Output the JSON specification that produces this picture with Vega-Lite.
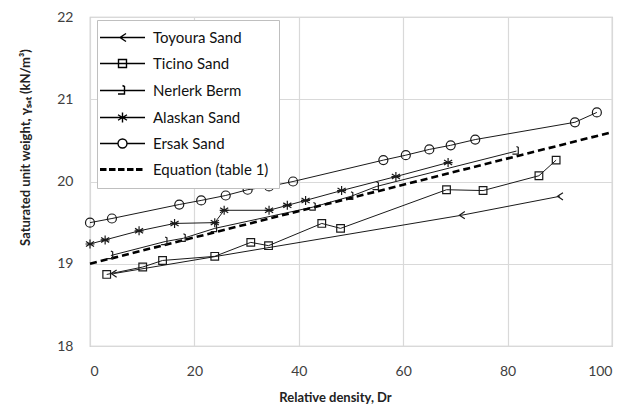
{
  "$schema": "https://vega.github.io/schema/vega-lite/v6.json",
  "width": 522,
  "height": 329,
  "autosize": {"type": "none"},
  "padding": {"left": 90, "top": 17, "right": 21, "bottom": 63},
  "background": "white",
  "config": {
    "font": "Lato",
    "view": {"stroke": "#bfbfbf", "strokeWidth": 1.2},
    "axis": {
      "grid": true, "gridColor": "#d9d9d9", "gridWidth": 1.2,
      "domain": false, "ticks": false,
      "labelFont": "Lato", "labelFontSize": 14, "labelColor": "#404040",
      "titleFont": "Lato", "titleFontSize": 13, "titleFontWeight": "bold", "titleColor": "#222222"
    }
  },
  "data": {
    "values": [
      {"material": "Toyoura Sand", "Dr": 4.5, "gamma": 18.88},
      {"material": "Toyoura Sand", "Dr": 71.2, "gamma": 19.59},
      {"material": "Toyoura Sand", "Dr": 90, "gamma": 19.82},
      {"material": "Ticino Sand", "Dr": 3.2, "gamma": 18.87},
      {"material": "Ticino Sand", "Dr": 10.1, "gamma": 18.96},
      {"material": "Ticino Sand", "Dr": 13.9, "gamma": 19.04},
      {"material": "Ticino Sand", "Dr": 23.9, "gamma": 19.09},
      {"material": "Ticino Sand", "Dr": 30.8, "gamma": 19.26},
      {"material": "Ticino Sand", "Dr": 34.2, "gamma": 19.22},
      {"material": "Ticino Sand", "Dr": 44.4, "gamma": 19.49},
      {"material": "Ticino Sand", "Dr": 48, "gamma": 19.43},
      {"material": "Ticino Sand", "Dr": 68.3, "gamma": 19.9},
      {"material": "Ticino Sand", "Dr": 75.3, "gamma": 19.89},
      {"material": "Ticino Sand", "Dr": 86, "gamma": 20.07},
      {"material": "Ticino Sand", "Dr": 89.3, "gamma": 20.26},
      {"material": "Nerlerk Berm", "Dr": 4, "gamma": 19.1},
      {"material": "Nerlerk Berm", "Dr": 14.4, "gamma": 19.27},
      {"material": "Nerlerk Berm", "Dr": 17.9, "gamma": 19.31},
      {"material": "Nerlerk Berm", "Dr": 23.9, "gamma": 19.43},
      {"material": "Nerlerk Berm", "Dr": 42.8, "gamma": 19.69},
      {"material": "Nerlerk Berm", "Dr": 50, "gamma": 19.82},
      {"material": "Nerlerk Berm", "Dr": 54.9, "gamma": 19.94},
      {"material": "Nerlerk Berm", "Dr": 81.7, "gamma": 20.37},
      {"material": "Alaskan Sand", "Dr": 0, "gamma": 19.24},
      {"material": "Alaskan Sand", "Dr": 2.9, "gamma": 19.29},
      {"material": "Alaskan Sand", "Dr": 9.4, "gamma": 19.4},
      {"material": "Alaskan Sand", "Dr": 16.2, "gamma": 19.49},
      {"material": "Alaskan Sand", "Dr": 23.9, "gamma": 19.5},
      {"material": "Alaskan Sand", "Dr": 25.7, "gamma": 19.65},
      {"material": "Alaskan Sand", "Dr": 34.3, "gamma": 19.65},
      {"material": "Alaskan Sand", "Dr": 37.8, "gamma": 19.71},
      {"material": "Alaskan Sand", "Dr": 41.3, "gamma": 19.77},
      {"material": "Alaskan Sand", "Dr": 48.2, "gamma": 19.89},
      {"material": "Alaskan Sand", "Dr": 58.6, "gamma": 20.06},
      {"material": "Alaskan Sand", "Dr": 68.6, "gamma": 20.23},
      {"material": "Ersak Sand", "Dr": 0, "gamma": 19.5},
      {"material": "Ersak Sand", "Dr": 4.2, "gamma": 19.55},
      {"material": "Ersak Sand", "Dr": 17.1, "gamma": 19.72},
      {"material": "Ersak Sand", "Dr": 21.3, "gamma": 19.77},
      {"material": "Ersak Sand", "Dr": 26, "gamma": 19.83},
      {"material": "Ersak Sand", "Dr": 30.2, "gamma": 19.9},
      {"material": "Ersak Sand", "Dr": 34.3, "gamma": 19.94},
      {"material": "Ersak Sand", "Dr": 38.9, "gamma": 20.0},
      {"material": "Ersak Sand", "Dr": 56.2, "gamma": 20.26},
      {"material": "Ersak Sand", "Dr": 60.5, "gamma": 20.32},
      {"material": "Ersak Sand", "Dr": 65, "gamma": 20.39},
      {"material": "Ersak Sand", "Dr": 69.1, "gamma": 20.44},
      {"material": "Ersak Sand", "Dr": 73.8, "gamma": 20.51},
      {"material": "Ersak Sand", "Dr": 92.9, "gamma": 20.72},
      {"material": "Ersak Sand", "Dr": 97.1, "gamma": 20.84},
      {"material": "Equation (table 1)", "Dr": 0, "gamma": 19.0},
      {"material": "Equation (table 1)", "Dr": 100, "gamma": 20.6}
    ]
  },
  "encoding": {
    "x": {
      "field": "Dr", "type": "quantitative",
      "scale": {"domain": [0, 100], "nice": false, "zero": false},
      "axis": {"values": [0, 20, 40, 60, 80, 100], "title": "Relative density, Dr", "labelPadding": 18, "titleX": 245, "titleY": 55, "titleBaseline": "alphabetic"}
    },
    "y": {
      "field": "gamma", "type": "quantitative",
      "scale": {"domain": [18, 22], "nice": false, "zero": false},
      "axis": {"values": [18, 19, 20, 21, 22], "title": "Saturated unit weight, γₛₐₜ (kN/m³)", "labelPadding": 17, "titleX": -58, "titleY": 130, "titleAnchor": "middle"}
    }
  },
  "layer": [
    {
      "transform": [{"filter": "datum.material != 'Equation (table 1)'"}],
      "mark": {"type": "line", "color": "#1a1a1a", "strokeWidth": 1},
      "encoding": {"detail": {"field": "material"}}
    },
    {
      "transform": [{"filter": "datum.material == 'Equation (table 1)'"}],
      "mark": {"type": "line", "color": "#000000", "strokeWidth": 2.6, "strokeDash": [7, 4]},
      "encoding": {}
    },
    {
      "transform": [{"filter": "datum.material != 'Equation (table 1)'"}],
      "mark": {"type": "point", "filled": false, "stroke": "#1a1a1a", "strokeWidth": 1.2, "size": 81, "opacity": 1},
      "encoding": {
        "shape": {
          "field": "material", "type": "nominal",
          "scale": {
            "domain": ["Toyoura Sand", "Ticino Sand", "Nerlerk Berm", "Alaskan Sand", "Ersak Sand"],
            "range": [
              "M0.7,-0.8L-0.5,0L0.7,0.8M-0.5,0L0.1,-0.4",
              "M-0.85,-0.85H0.85V0.85H-0.85Z",
              "M-0.9,0.7H0.4V-0.8L0,-1",
              "M0,-1V1M-0.9,-0.55L0.9,0.55M-0.9,0.55L0.9,-0.55M-1,0H1",
              "M-1,0A1,1 0 1,1 1,0A1,1 0 1,1 -1,0Z"
            ]
          },
          "legend": null
        }
      }
    },
    {
      "transform": [{"filter": "false"}],
      "mark": {"type": "point", "filled": false, "stroke": "#000000"},
      "encoding": {
        "shape": {
          "field": "material", "type": "nominal",
          "scale": {
            "domain": ["Toyoura Sand", "Ticino Sand", "Nerlerk Berm", "Alaskan Sand", "Ersak Sand", "Equation (table 1)"],
            "range": [
              "M-4.5,0H4.5M0.7,-0.8L-0.5,0L0.7,0.8",
              "M-4.5,0H4.5M-0.8,-0.8H0.8V0.8H-0.8Z",
              "M-4.5,0H4.5M-0.9,0.7H0.4V-0.8L0,-1",
              "M-4.5,0H4.5M0,-1V1M-0.9,-0.55L0.9,0.55M-0.9,0.55L0.9,-0.55",
              "M-4.5,0H-0.9M0.9,0H4.5M-0.9,0A0.9,0.9 0 1,1 0.9,0A0.9,0.9 0 1,1 -0.9,0Z",
              "M-4.5,-0.15H-3.2M-4.5,0.15H-3.2M-2.7,-0.15H-1.4M-2.7,0.15H-1.4M-0.9,-0.15H0.4M-0.9,0.15H0.4M0.9,-0.15H2.2M0.9,0.15H2.2M2.7,-0.15H4M2.7,0.15H4"
            ]
          },
          "legend": {
            "title": null,
            "orient": "none",
            "legendX": 7,
            "legendY": 3,
            "padding": 10,
            "fillColor": "white",
            "strokeColor": "#bfbfbf",
            "symbolSize": 100,
            "symbolStrokeColor": "black",
            "symbolFillColor": "transparent",
            "symbolStrokeWidth": 1.4,
            "symbolOpacity": 1,
            "symbolOffset": 8,
            "labelOffset": 23,
            "labelFont": "Lato",
            "labelFontSize": 15,
            "labelColor": "#111111",
            "rowPadding": 10
          }
        }
      }
    }
  ],
  "resolve": {"scale": {"shape": "independent"}, "legend": {"shape": "independent"}}
}
